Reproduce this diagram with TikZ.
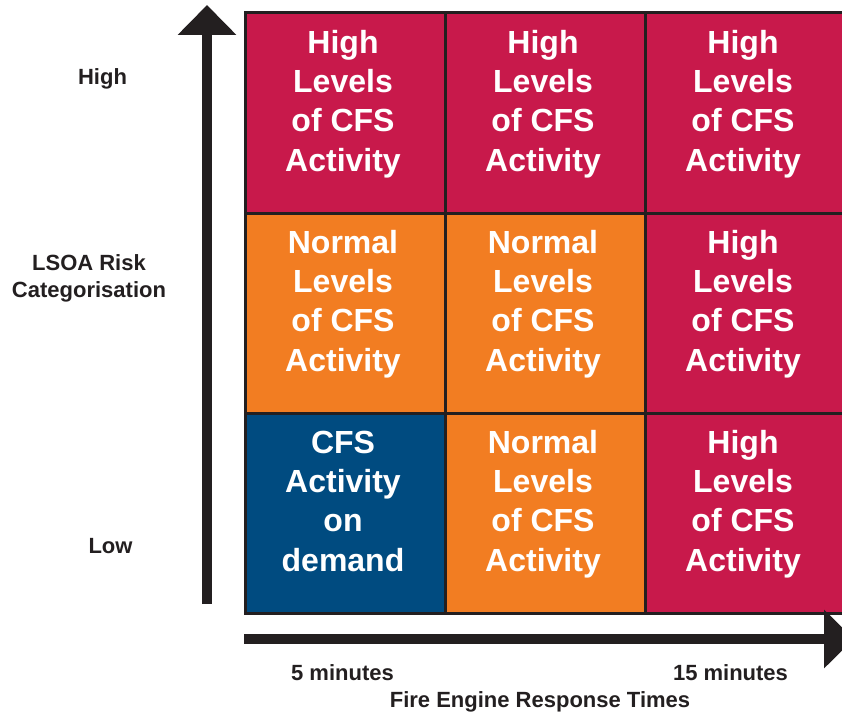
\documentclass[tikz,border=0pt]{standalone}
\usepackage{fontspec}
\setmainfont{Liberation Sans}
\usetikzlibrary{arrows.meta}
\definecolor{riskred}{HTML}{C8194B}
\definecolor{riskorange}{HTML}{F27D22}
\definecolor{riskblue}{HTML}{004B80}
\definecolor{inkdark}{HTML}{231F20}
\begin{document}
\begin{tikzpicture}[x=0.75pt,y=-0.75pt,
  cell/.style={draw=inkdark, line width=2.25pt, minimum width=150pt,
    minimum height=150pt, inner sep=0pt, outer sep=0pt},
  celltext/.style={text=white, inner sep=0pt, align=center,
    font=\bfseries\fontsize{24}{29.4}\selectfont},
  axislabel/.style={text=inkdark, inner sep=0pt, anchor=base,
    font=\bfseries\fontsize{16.5}{20}\selectfont},
  axisarrow/.style={draw=inkdark, line width=7.5pt,
    -{Triangle[length=22.5pt, width=42.75pt]}}]
\useasboundingbox (0,0) rectangle (842,713);
\clip (0,0) rectangle (842,713);

% grid of cells: columns = response time, rows = risk level
\node[cell, fill=riskred]    (c11) at (345,113) {};
\node[cell, fill=riskred]    (c12) at (545,113) {};
\node[cell, fill=riskred]    (c13) at (745,113) {};
\node[cell, fill=riskorange] (c21) at (345,313) {};
\node[cell, fill=riskorange] (c22) at (545,313) {};
\node[cell, fill=riskred]    (c23) at (745,313) {};
\node[cell, fill=riskblue]   (c31) at (345,513) {};
\node[cell, fill=riskorange] (c32) at (545,513) {};
\node[cell, fill=riskred]    (c33) at (745,513) {};

% cell texts
\newcommand{\highcfs}{\strut High\\Levels\\of CFS\\Activity\strut}
\newcommand{\normalcfs}{\strut Normal\\Levels\\of CFS\\Activity\strut}
\node[celltext] (t11) at (343,104.5) {\highcfs};
\node[celltext] (t12) at (543,104.5) {\highcfs};
\node[celltext] (t13) at (743,104.5) {\highcfs};
\node[celltext] (t21) at (343,304.5) {\normalcfs};
\node[celltext] (t22) at (543,304.5) {\normalcfs};
\node[celltext] (t23) at (743,304.5) {\highcfs};
\node[celltext] (t31) at (343,504.5) {\strut CFS\\Activity\\on\\demand\strut};
\node[celltext] (t32) at (543,504.5) {\normalcfs};
\node[celltext] (t33) at (743,504.5) {\highcfs};

% axes
\coordinate (ybottom) at (207,604);
\coordinate (ytop) at (207,5);
\coordinate (xleft) at (244,639);
\coordinate (xright) at (854,639);
\draw[axisarrow] (ybottom) -- (ytop);
\draw[axisarrow] (xleft) -- (xright);

% axis labels
\node[axislabel] (lhigh) at (102.5,85) {High};
\node[axislabel] (lrisk1) at (89,270) {LSOA Risk};
\node[axislabel] (lrisk2) at (89,297) {Categorisation};
\node[axislabel] (llow) at (110.5,553) {Low};
\node[axislabel] (lfive) at (342.5,680) {5 minutes};
\node[axislabel] (lfifteen) at (730.5,680) {15 minutes};
\node[axislabel] (ltitle) at (540,707) {Fire Engine Response Times};
\end{tikzpicture}
\end{document}
